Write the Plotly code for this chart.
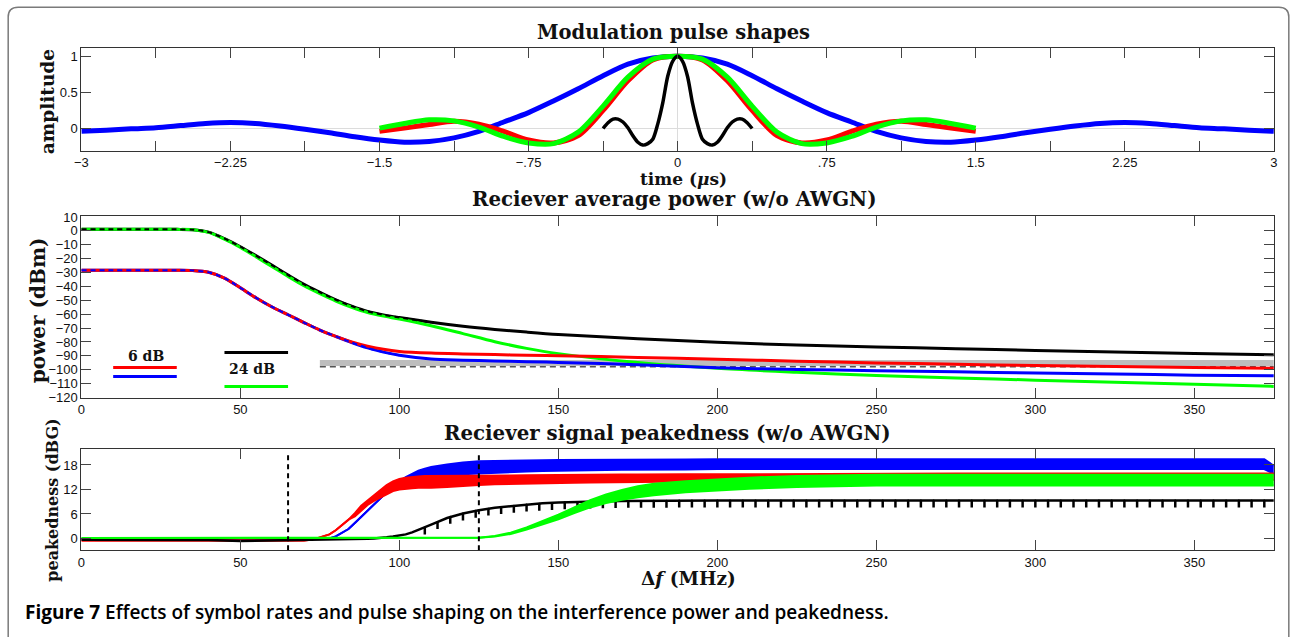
import plotly.graph_objects as go

W, H = 1294, 637
# Measured behaviour of the capture: the figure sits 8 px in from the page corner and the
# capture is scaled by 1294/1310 x 637/653.  Positions below are target picture pixels.
SX, SY, OFF = 1310 / 1294, 653 / 637, 8


def fx(px):
    return (px * SX - OFF) / W


def fy(py):
    return 1 - (py * SY - OFF) / H


# ---------------- data: modulation pulse shapes ----------------
pulse_t_wide = [-3.0, -2.875, -2.75, -2.625, -2.5, -2.375, -2.25, -2.125, -2.0, -1.875, -1.75, -1.625,
                -1.5, -1.375, -1.25, -1.125, -1.0, -0.875, -0.75, -0.625, -0.5, -0.375, -0.25, -0.125,
                0.0, 0.125, 0.25, 0.375, 0.5, 0.625, 0.75, 0.875, 1.0, 1.125, 1.25, 1.375,
                1.5, 1.625, 1.75, 1.875, 2.0, 2.125, 2.25, 2.375, 2.5, 2.625, 2.75, 2.875, 3.0]
pulse_blue = [-0.04, -0.025, -0.005, 0.01, 0.04, 0.07, 0.083, 0.07, 0.035, -0.01, -0.06, -0.115,
              -0.16, -0.19, -0.18, -0.13, -0.04, 0.09, 0.22, 0.38, 0.55, 0.73, 0.89, 0.975,
              1.0, 0.975, 0.89, 0.73, 0.55, 0.38, 0.22, 0.09, -0.04, -0.13, -0.18, -0.19,
              -0.16, -0.115, -0.06, -0.01, 0.035, 0.07, 0.083, 0.07, 0.04, 0.01, -0.005, -0.025, -0.04]

pulse_t_mid = [-1.5, -1.375, -1.25, -1.125, -1.0, -0.875, -0.75, -0.625, -0.5, -0.375, -0.25, -0.125,
               0.0, 0.125, 0.25, 0.375, 0.5, 0.625, 0.75, 0.875, 1.0, 1.125, 1.25, 1.375, 1.5]
pulse_red = [-0.04, 0.005, 0.055, 0.10, 0.06, -0.04, -0.16, -0.20, -0.10, 0.25, 0.66, 0.95,
             1.0, 0.95, 0.66, 0.25, -0.10, -0.20, -0.16, -0.04, 0.06, 0.10, 0.055, 0.005, -0.04]
pulse_green = [0.005, 0.07, 0.12, 0.105, 0.02, -0.11, -0.20, -0.21, -0.05, 0.31, 0.71, 0.96,
               1.0, 0.96, 0.71, 0.31, -0.05, -0.21, -0.20, -0.11, 0.02, 0.105, 0.12, 0.07, 0.005]

pulse_t_narrow = [-0.375, -0.35, -0.325, -0.3, -0.275, -0.25, -0.225, -0.2, -0.175, -0.15, -0.125,
                  -0.1, -0.075, -0.05, -0.025, 0.0, 0.025, 0.05, 0.075, 0.1, 0.125, 0.15, 0.175,
                  0.2, 0.225, 0.25, 0.275, 0.3, 0.325, 0.35, 0.375]
pulse_black = [0.0, 0.08, 0.13, 0.13, 0.09, 0.01, -0.10, -0.19, -0.23, -0.21, -0.15,
               0.06, 0.35, 0.72, 0.93, 1.0, 0.93, 0.72, 0.35, 0.06, -0.15, -0.21, -0.23,
               -0.19, -0.10, 0.01, 0.09, 0.13, 0.13, 0.08, 0.0]

time_tickvals = [-3, -2.625, -2.25, -1.875, -1.5, -1.125, -0.75, -0.375, 0,
                 0.375, 0.75, 1.125, 1.5, 1.875, 2.25, 2.625, 3]
time_ticktext = ["\u22123", "", "\u22122.25", "", "\u22121.5", "", "\u2212.75", "", "0",
                 "", ".75", "", "1.5", "", "2.25", "", "3"]

# ---------------- data: receiver average power ----------------
pow_x = [0, 10, 20, 30, 35, 40, 45, 50, 55, 60, 65, 70, 75, 80, 85, 90, 95, 100,
         110, 120, 130, 140, 150, 175, 200, 225, 250, 275, 300, 325, 350, 375]
pow_black_24 = [1.2, 1.2, 1.2, 1.1, 0.9, -0.9, -5.6, -11.4, -18.0, -24.8, -31.8, -38.5, -44.2, -49.6,
                -54.2, -58.0, -60.5, -62.4, -65.8, -68.7, -71.0, -72.9, -74.6, -77.6, -80.2, -82.2,
                -83.6, -84.8, -86.1, -87.3, -88.3, -89.2]
pow_green_24 = [1.2, 1.2, 1.2, 1.1, 0.9, -1.1, -6.0, -12.0, -18.8, -25.8, -32.8, -39.5, -45.2, -50.5,
                -55.0, -58.8, -61.4, -63.5, -68.3, -74.0, -79.8, -84.6, -88.4, -94.8, -99.0, -101.8,
                -104.2, -105.9, -107.5, -109.1, -110.4, -112.0]
pow_red_6 = [-28.3, -28.3, -28.3, -28.3, -28.5, -29.8, -34.0, -41.0, -48.3, -54.8, -60.4, -66.0,
             -71.4, -76.0, -80.0, -83.0, -85.3, -86.8, -88.0, -88.6, -89.1, -89.5, -89.9, -91.1,
             -92.4, -93.8, -95.1, -96.0, -97.0, -97.7, -98.3, -99.0]
pow_blue_6 = [-28.3, -28.3, -28.3, -28.3, -28.5, -29.8, -34.0, -41.0, -48.3, -54.8, -60.4, -66.0,
              -71.4, -76.0, -80.4, -84.3, -87.3, -89.6, -92.3, -93.1, -93.7, -94.2, -94.7, -96.4,
              -98.5, -99.8, -100.7, -101.5, -102.4, -103.1, -103.9, -104.4]
noise_x = [75, 375]
noise_band = [-95.2, -95.2]
noise_dashed = [-97.9, -97.9]

# ---------------- data: receiver signal peakedness ----------------
peak_x = [0, 20, 40, 50, 60, 70, 72, 74, 76, 78, 80, 82, 84, 86, 88, 90, 92, 94, 96, 98, 100,
          102, 104, 106, 108, 110, 115, 120, 125, 130, 135, 140, 145, 150, 155, 160, 165, 170,
          175, 180, 190, 200, 210, 225, 250, 275, 300, 325, 350, 372, 375]
peak_blue_lo = [-0.2, -0.2, -0.3, -0.4, -0.3, -0.2, -0.2, -0.1, -0.1, 0.0, 0.5, 1.3, 2.3, 3.8, 5.3,
                6.8, 8.3, 9.9, 11.3, 12.5, 13.2, 13.7, 14.1, 14.4, 14.7, 14.9, 15.3, 15.7, 15.9, 16.1,
                16.3, 16.4, 16.5, 16.6, 16.65, 16.7, 16.75, 16.8, 16.8, 16.85, 16.9, 17.0, 17.0, 17.0,
                17.0, 17.0, 17.0, 17.0, 17.0, 17.0, 15.8]
peak_blue_hi = [-0.2, -0.2, -0.3, -0.4, -0.3, -0.2, -0.2, -0.1, -0.1, 0.0, 0.5, 1.3, 2.3, 3.8, 5.3,
                6.8, 8.3, 9.9, 11.3, 12.5, 14.0, 15.0, 15.9, 16.6, 17.1, 17.5, 18.1, 18.6, 18.9, 19.0,
                19.1, 19.1, 19.15, 19.2, 19.2, 19.25, 19.25, 19.3, 19.3, 19.3, 19.35, 19.4, 19.4, 19.4,
                19.4, 19.4, 19.4, 19.4, 19.4, 19.4, 17.8]
peak_red_lo = [-0.5, -0.5, -0.5, -0.6, -0.5, -0.5, -0.3, 0.0, 0.5, 1.0, 2.0, 3.2, 4.6, 5.4, 6.8,
               8.2, 9.2, 10.0, 10.9, 11.6, 12.0, 12.2, 12.3, 12.4, 12.4, 12.4, 12.6, 12.9, 13.1, 13.3,
               13.4, 13.5, 13.55, 13.6, 13.65, 13.7, 13.75, 13.8, 13.85, 13.9, 13.95, 14.0, 14.1,
               14.2, 14.3, 14.3, 14.3, 14.3, 14.3, 14.3, 14.3]
peak_red_hi = [-0.5, -0.5, -0.5, -0.6, -0.5, -0.5, -0.3, 0.0, 0.5, 1.0, 2.0, 3.2, 4.6, 6.2, 8.0,
               9.3, 10.6, 12.0, 13.1, 14.0, 14.6, 14.9, 15.1, 15.2, 15.3, 15.3, 15.35, 15.4, 15.4,
               15.4, 15.45, 15.5, 15.55, 15.6, 15.6, 15.6, 15.65, 15.65, 15.65, 15.7, 15.7, 15.7,
               15.75, 15.8, 15.9, 15.9, 15.9, 15.9, 15.9, 15.9, 15.9]
peak_black = [-0.3, -0.3, -0.4, -0.6, -0.5, -0.4, -0.35, -0.3, -0.3, -0.3, -0.3, -0.3, -0.3, -0.2,
              -0.2, -0.1, 0.0, 0.1, 0.3, 0.5, 0.7, 1.0, 1.5, 2.1, 2.7, 3.4, 5.0, 6.1, 6.9, 7.5, 7.9,
              8.3, 8.6, 8.8, 8.95, 9.05, 9.1, 9.15, 9.2, 9.25, 9.3, 9.3, 9.3, 9.3, 9.3, 9.3, 9.3,
              9.3, 9.3, 9.3, 9.3]
peak_green_lo = [0.1, 0.1, 0.1, 0.1, 0.1, 0.1, 0.1, 0.1, 0.1, 0.1, 0.1, 0.1, 0.1, 0.1, 0.1, 0.1,
                 0.1, 0.1, 0.1, 0.1, 0.1, 0.1, 0.1, 0.1, 0.1, 0.1, 0.1, 0.1, 0.15, 0.45, 1.1, 2.2,
                 3.5, 4.7, 6.2, 7.6, 8.7, 9.5, 10.1, 10.6, 11.3, 11.8, 12.2, 12.6, 13.0, 13.0, 13.0,
                 13.0, 13.0, 13.0, 13.0]
peak_green_hi = [0.1, 0.1, 0.1, 0.1, 0.1, 0.1, 0.1, 0.1, 0.1, 0.1, 0.1, 0.1, 0.1, 0.1, 0.1, 0.1,
                 0.1, 0.1, 0.1, 0.1, 0.1, 0.1, 0.1, 0.1, 0.1, 0.1, 0.1, 0.1, 0.2, 0.6, 1.4, 2.7,
                 4.2, 5.8, 7.6, 9.4, 10.8, 11.9, 12.8, 13.4, 14.0, 14.5, 14.9, 15.3, 15.6, 15.6,
                 15.6, 15.6, 15.6, 15.6, 15.6]
spike_x = [108, 112, 116, 120, 124, 128, 132, 136, 140, 144, 148, 152, 156, 160, 164, 168, 172,
           176, 180, 184, 188, 192, 196, 200, 204, 208, 212, 216, 220, 224, 228, 232, 236, 240,
           244, 248, 252, 256, 260, 264, 268, 272, 276, 280, 284, 288, 292, 296, 300, 304, 308,
           312, 316, 320, 324, 328, 332, 336, 340, 344, 348, 352, 356, 360, 364, 368, 372]
spike_top = [2.7, 4.0, 5.3, 6.1, 6.8, 7.3, 7.7, 8.0, 8.3, 8.5, 8.7, 8.85, 8.95, 9.05, 9.1, 9.15,
             9.2, 9.2, 9.25, 9.25, 9.3, 9.3, 9.3, 9.3, 9.3, 9.3, 9.3, 9.3, 9.3, 9.3, 9.3, 9.3, 9.3,
             9.3, 9.3, 9.3, 9.3, 9.3, 9.3, 9.3, 9.3, 9.3, 9.3, 9.3, 9.3, 9.3, 9.3, 9.3, 9.3, 9.3,
             9.3, 9.3, 9.3, 9.3, 9.3, 9.3, 9.3, 9.3, 9.3, 9.3, 9.3, 9.3, 9.3, 9.3, 9.3, 9.3, 9.3]
spike_depth = 1.7
marker_freqs = [65, 125]

BLUE, RED, GREEN, BLACK = "#0000ff", "#ff0000", "#00ff00", "#000000"

fig = go.Figure()


def line(x, y, color, width, xa, ya, shape="spline", dash="solid", **kw):
    fig.add_trace(go.Scatter(x=x, y=y, mode="lines", xaxis=xa, yaxis=ya, showlegend=False,
                             hoverinfo="skip",
                             line=dict(color=color, width=width, shape=shape, dash=dash,
                                       **({"smoothing": 0.8} if shape == "spline" else {})),
                             **kw))


# top panel
line(pulse_t_wide, pulse_blue, BLUE, 5, "x", "y")
line(pulse_t_mid, pulse_red, RED, 5, "x", "y")
line(pulse_t_mid, pulse_green, GREEN, 5, "x", "y")
line(pulse_t_narrow, pulse_black, BLACK, 3.5, "x", "y")

# middle panel
line(noise_x, noise_band, "#bdbdbd", 6, "x2", "y2", shape="linear")
line(noise_x, noise_dashed, "#555555", 1.5, "x2", "y2", shape="linear", dash="6px,4px")
line(pow_x, pow_black_24, BLACK, 3, "x2", "y2")
line(pow_x, pow_green_24, GREEN, 3, "x2", "y2")
line(pow_x[:19], pow_black_24[:19], BLACK, 2, "x2", "y2", dash="5px,4px")
line(pow_x, pow_blue_6, BLUE, 3, "x2", "y2")
line(pow_x, pow_red_6, RED, 3, "x2", "y2")
line(pow_x[:18], pow_blue_6[:18], BLUE, 2, "x2", "y2", dash="5px,4px")


# bottom panel
def band(lo, hi, color):
    line(peak_x, lo, color, 2, "x3", "y3", shape="linear")
    line(peak_x, hi, color, 2, "x3", "y3", shape="linear", fill="tonexty", fillcolor=color)


band(peak_blue_lo, peak_blue_hi, BLUE)
band(peak_red_lo, peak_red_hi, RED)
line(peak_x, peak_black, BLACK, 2.5, "x3", "y3", shape="linear")
fig.add_trace(go.Scatter(x=spike_x, y=spike_top, mode="markers", xaxis="x3", yaxis="y3",
                         showlegend=False, hoverinfo="skip",
                         marker=dict(size=2, color=BLACK),
                         error_y=dict(type="constant", symmetric=False, value=0,
                                      valueminus=spike_depth, color=BLACK, thickness=2.5, width=0)))
band(peak_green_lo, peak_green_hi, GREEN)

# ---------------- layout ----------------
tickfont = dict(family="Liberation Sans, Arial, sans-serif", size=13, color="#111")
ax = dict(showline=True, linecolor="#333", linewidth=1, mirror="ticks", ticks="inside",
          ticklen=10, tickcolor="#444", tickwidth=1, showgrid=False, zeroline=False,
          tickfont=tickfont)
XDOM = [fx(82), fx(1270)]

fig.update_layout(
    width=W, height=H, autosize=False,
    margin=dict(l=0, r=0, t=0, b=0),
    paper_bgcolor="white", plot_bgcolor="white",
    xaxis=dict(ax, domain=XDOM, anchor="y", range=[-3, 3], tickvals=time_tickvals,
               ticktext=time_ticktext, zeroline=True, zerolinecolor="#dcdcdc", zerolinewidth=1),
    yaxis=dict(ax, domain=[fy(152.3), fy(50)], anchor="x", range=[-0.31, 1.11],
               tickvals=[0, 0.5, 1], ticktext=["0", "0.5", "1"], zeroline=True,
               zerolinecolor="#dcdcdc", zerolinewidth=1),
    xaxis2=dict(ax, domain=XDOM, anchor="y2", range=[0, 375],
                tickvals=[0, 50, 100, 150, 200, 250, 300, 350]),
    yaxis2=dict(ax, domain=[fy(398.3), fy(217.3)], anchor="x2", range=[-120, 10.7],
                tickvals=list(range(-120, 11, 10))),
    xaxis3=dict(ax, domain=XDOM, anchor="y3", range=[0, 375],
                tickvals=[0, 50, 100, 150, 200, 250, 300, 350]),
    yaxis3=dict(ax, domain=[fy(550.7), fy(449.3)], anchor="x3", range=[-2.9, 22],
                tickvals=[0, 6, 12, 18]),
)

serif = "DejaVu Serif, Liberation Serif, serif"
annots = []


def txt(text, x, y, size, angle=0, font=serif, xref="paper", yref="paper", xanchor="center",
        weight="bold", color="#111"):
    annots.append(dict(text=text, x=x, y=y, xref=xref, yref=yref, xanchor=xanchor,
                       yanchor="middle", showarrow=False, textangle=angle,
                       font=dict(family=font, size=size, color=color, weight=weight)))


txt("Modulation pulse shapes", fx(671.5), fy(34), 19.5)
txt("Reciever average power (w/o AWGN)", fx(672.5), fy(200.5), 19.8)
txt("Reciever signal peakedness (w/o AWGN)", fx(665.5), fy(433.5), 19.8)
txt("time (<i>\u03bc</i>s)", fx(682), fy(180), 17)
txt("\u0394<i>f</i> (MHz)", fx(687), fy(579), 18.5)
txt("amplitude", fx(49), fy(103.5), 18.5, angle=-90)
txt("power (dBm)", fx(39), fy(311), 20, angle=-90)
txt("peakedness (dBG)", fx(53), fy(501), 16, angle=-90)
txt("6 dB", 20.4, -90.0, 14, xref="x2", yref="y2")
txt("24 dB", 53.7, -99.5, 14, xref="x2", yref="y2")
txt("<b>Figure 7</b> Effects of symbol rates and pulse shaping on the interference power and peakedness.",
    fx(24), fy(612), 19, font="Open Sans, Noto Sans, sans-serif", xanchor="left", weight=600,
    color="#000")
fig.update_layout(annotations=annots)

shapes = []
# legend swatches inside middle panel
for (x0, x1, y, c) in [(10, 30, -98.3, RED), (10, 30, -104.8, BLUE),
                       (45, 65, -87.5, BLACK), (45, 65, -112.0, GREEN)]:
    shapes.append(dict(type="line", xref="x2", yref="y2", x0=x0, x1=x1, y0=y, y1=y,
                       line=dict(color=c, width=3)))
# vertical dashed markers in bottom panel
for f in marker_freqs:
    shapes.append(dict(type="line", xref="x3", yref="y3", x0=f, x1=f, y0=-2.9, y1=20.6,
                       line=dict(color=BLACK, width=2, dash="5px,4px"), layer="above"))
# rounded frame, in figure pixels (kept just inside the figure edges)
l, t, r, b, rad = 1.2, 1.2, 1292.8, 700, 10


def gx(p):
    return p / W


def gy(p):
    return 1 - p / H


path = (f"M {gx(l)},{gy(b)} L {gx(l)},{gy(t + rad)} Q {gx(l)},{gy(t)} {gx(l + rad)},{gy(t)} "
        f"L {gx(r - rad)},{gy(t)} Q {gx(r)},{gy(t)} {gx(r)},{gy(t + rad)} L {gx(r)},{gy(b)}")
shapes.append(dict(type="path", xref="paper", yref="paper", path=path,
                   line=dict(color="#7a7a7a", width=1.5)))
fig.update_layout(shapes=shapes)

fig.write_html("out.html", config={"displayModeBar": False})
